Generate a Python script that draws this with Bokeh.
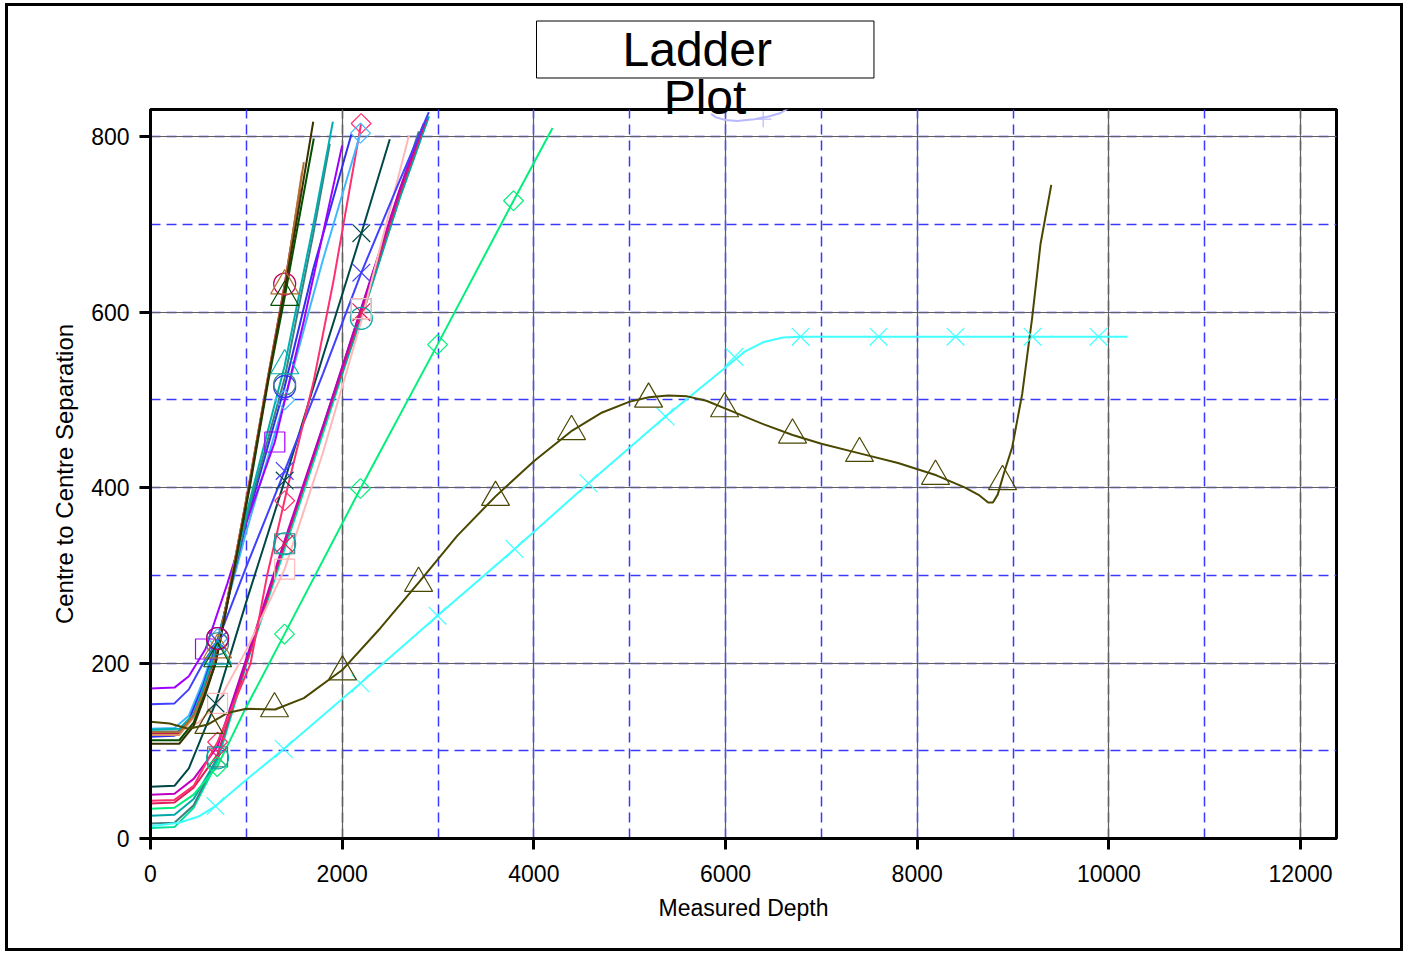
import math
from bokeh.plotting import figure
from bokeh.models import Range1d, Title, SingleIntervalTicker, LinearAxis, FixedTicker
from bokeh.embed import file_html
from bokeh.resources import INLINE

# ---------------- data ----------------
X_TICKS = [0, 2000, 4000, 6000, 8000, 10000, 12000]
Y_TICKS = [0, 200, 400, 600, 800]
TITLE_LINE1 = "Ladder"
TITLE_LINE2 = "Plot"

# left (steep) cluster
VIOLET_MD = [0, 250, 400, 574, 800, 1000, 1297, 1600, 2000]
VIOLET_SEP = [171, 172, 185, 216, 290, 360, 452, 590, 790]
VIOLET_MK_MD = [574, 1297]
VIOLET_MK_SEP = [216, 452]

BLUEX_MD = [0, 250, 400, 550, 700, 1000, 1400, 1800, 2200, 2600, 2904]
BLUEX_SEP = [153, 154, 170, 200, 225, 310, 419, 530, 645, 750, 828]
BLUEX_MK_MD = [700, 1400, 2200]
BLUEX_MK_SEP = [225, 419, 645]

BLUEC_MD = [0, 250, 400, 550, 700, 1000, 1400, 1700, 2097]
BLUEC_SEP = [116, 117, 135, 175, 225, 360, 515, 650, 803]
BLUEC_MK_MD = [700, 1400]
BLUEC_MK_SEP = [228, 515]

SKY_MD = [0, 250, 400, 550, 700, 1000, 1400, 1800, 2191]
SKY_SEP = [125, 126, 140, 180, 228, 350, 500, 660, 804]
SKY_MK_MD = [700, 1400, 2191]
SKY_MK_SEP = [228, 500, 804]

PINK1_MD = [0, 250, 450, 700, 1043, 1217, 1430, 1700, 1910, 2198]
PINK1_SEP = [43, 44, 60, 110, 199, 300, 400, 520, 636, 815]
PINK1_MK_MD = [700, 1400, 2198]
PINK1_MK_SEP = [110, 385, 815]

BROWN_MD = [0, 300, 450, 550, 670, 850, 1023, 1218, 1400, 1600]
BROWN_SEP = [121, 121, 140, 165, 200, 300, 400, 522, 630, 771]
BROWN_MK_MD = [700, 1400]
BROWN_MK_SEP = [215, 630]

TAN_MD = [0, 300, 450, 550, 670, 850, 1023, 1218, 1400, 1580]
TAN_SEP = [118, 118, 138, 163, 198, 298, 398, 518, 626, 760]

BLACK_MD = [0, 300, 450, 560, 680, 860, 1030, 1225, 1400, 1550, 1698]
BLACK_SEP = [108, 108, 128, 160, 200, 300, 400, 522, 625, 720, 817]

CRIMSON_MD = [0, 300, 450, 560, 680, 860, 1030, 1225, 1400, 1560]
CRIMSON_SEP = [120, 120, 140, 168, 205, 305, 405, 525, 632, 740]
CRIMSON_MK_MD = [700, 1400]
CRIMSON_MK_SEP = [228, 632]

DKGREEN_MD = [0, 300, 450, 560, 680, 860, 1035, 1230, 1400, 1704]
DKGREEN_SEP = [112, 112, 132, 163, 200, 300, 400, 522, 617, 798]
DKGREEN_MK_MD = [700, 1400]
DKGREEN_MK_SEP = [205, 617]

TEAL_MD = [0, 300, 450, 560, 700, 1000, 1400, 1700, 1903]
TEAL_SEP = [124, 125, 142, 175, 222, 370, 539, 700, 817]
TEAL_MK_MD = [700, 1400]
TEAL_MK_SEP = [208, 539]

GREYTEAL1_MD = [0, 300, 450, 560, 700, 1000, 1400, 1700, 1871]
GREYTEAL1_SEP = [122, 122, 140, 172, 220, 365, 525, 690, 792]
GREYTEAL1_MK_MD = [700, 1400]
GREYTEAL1_MK_SEP = [222, 518]

# right cluster
DKTEAL_MD = [0, 250, 400, 550, 678, 1000, 1400, 1800, 2200, 2497]
DKTEAL_SEP = [59, 60, 80, 120, 154, 270, 408, 550, 690, 797]
DKTEAL_MK_MD = [678, 1400, 2200]
DKTEAL_MK_SEP = [154, 408, 690]

LTPINK_MD = [0, 300, 500, 700, 1000, 1400, 1800, 2200, 2696]
LTPINK_SEP = [121, 122, 132, 154, 215, 307, 440, 590, 801]
LTPINK_MK_MD = [700, 1400, 2200]
LTPINK_MK_SEP = [154, 307, 604]

MAGENTA_MD = [0, 250, 450, 700, 1000, 1400, 1800, 2200, 2600, 2850]
MAGENTA_SEP = [50, 51, 68, 105, 205, 340, 470, 605, 740, 815]

PINK2_MD = [0, 250, 450, 700, 1000, 1400, 1800, 2200, 2600, 2880]
PINK2_SEP = [40, 41, 58, 96, 200, 336, 468, 600, 735, 820]
PINK2_MK_MD = [700, 1400, 2200]
PINK2_MK_SEP = [93, 336, 600]

TEAL2_MD = [0, 250, 450, 700, 1000, 1400, 1800, 2200, 2600, 2904]
TEAL2_SEP = [26, 27, 45, 92, 200, 336, 468, 593, 730, 823]
TEAL2_MK_MD = [700, 1400, 2200]
TEAL2_MK_SEP = [92, 336, 593]

GREYTEAL2_MD = [0, 250, 450, 700, 1000, 1400, 1800, 2200, 2800]
GREYTEAL2_SEP = [17, 18, 38, 93, 203, 336, 470, 604, 806]
GREYTEAL2_MK_MD = [700, 1400, 2200]
GREYTEAL2_MK_SEP = [93, 336, 604]

SPRING_MD = [0, 250, 450, 700, 1000, 1400, 1800, 2200, 2600, 2904]
SPRING_SEP = [12, 13, 35, 88, 198, 330, 462, 596, 730, 823]

GREEN_MD = [0, 250, 450, 696, 1000, 1398, 2191, 2995, 3788, 4195]
GREEN_SEP = [34, 35, 50, 82, 150, 233, 399, 563, 727, 810]
GREEN_MK_MD = [696, 1398, 2191, 2995, 3788]
GREEN_MK_SEP = [82, 233, 399, 563, 727]

OLIVE_MD = [0, 200, 400, 600, 800, 1000, 1300, 1600, 2000, 2400, 2800, 3200, 3600,
            4000, 4400, 4700, 5000, 5200, 5400, 5600, 5800, 6000, 6400, 6700, 7000,
            7400, 7800, 8200, 8500, 8650, 8740, 8790, 8840, 8904, 8991, 9096, 9200,
            9287, 9399]
OLIVE_SEP = [133, 131, 125, 130, 143, 148, 147, 160, 192, 240, 292, 345, 390,
             430, 465, 485, 498, 503, 505, 504, 499, 490, 472, 460, 450,
             439, 428, 414, 400, 391, 383, 383, 392, 416, 446, 507, 594,
             678, 745]
OLIVE_MK_MD = [609, 1294, 2003, 2797, 3600, 4393, 5197, 5990, 6699, 7398, 8191, 8890]
OLIVE_MK_SEP = [129, 148, 190, 291, 389, 464, 501, 490, 460, 439, 413, 407]

CYAN_MD = [0, 300, 500, 678, 1000, 1391, 2191, 2995, 3800, 4570, 5374, 6000,
           6200, 6400, 6600, 6783, 10195]
CYAN_SEP = [14, 18, 25, 37, 67, 102, 177, 254, 330, 405, 481, 537,
            555, 566, 571, 572, 572]
CYAN_MK_MD = [678, 1391, 2191, 2995, 3800, 4570, 5374, 6094, 6783, 7597, 8400, 9203, 9892]
CYAN_MK_SEP = [37, 102, 177, 254, 330, 405, 481, 549, 572, 572, 572, 572, 572]

LAV_MD = [5850, 5900, 6000, 6122, 6300, 6450, 6574, 6650]
LAV_SEP = [826, 822, 819, 818, 820, 823, 827, 832]
LAV_MK_MD = [6393]
LAV_MK_SEP = [820]

# ---------------- styles ----------------
SERIES = [
    # (md, sep, mk_md, mk_sep, color, marker)
    (SPRING_MD, SPRING_SEP, None, None, "#00e0a0", None),
    (GREYTEAL2_MD, GREYTEAL2_SEP, GREYTEAL2_MK_MD, GREYTEAL2_MK_SEP, "#408080", "square"),
    (TEAL2_MD, TEAL2_SEP, TEAL2_MK_MD, TEAL2_MK_SEP, "#00a8a8", "circle"),
    (PINK2_MD, PINK2_SEP, PINK2_MK_MD, PINK2_MK_SEP, "#e0205a", "x"),
    (MAGENTA_MD, MAGENTA_SEP, None, None, "#c000c0", None),
    (LTPINK_MD, LTPINK_SEP, LTPINK_MK_MD, LTPINK_MK_SEP, "#ffb8b8", "square"),
    (DKTEAL_MD, DKTEAL_SEP, DKTEAL_MK_MD, DKTEAL_MK_SEP, "#004848", "x"),
    (BLUEX_MD, BLUEX_SEP, BLUEX_MK_MD, BLUEX_MK_SEP, "#4040ff", "x"),
    (PINK1_MD, PINK1_SEP, PINK1_MK_MD, PINK1_MK_SEP, "#ff3070", "diamond"),
    (SKY_MD, SKY_SEP, SKY_MK_MD, SKY_MK_SEP, "#40b8ff", "diamond"),
    (BLUEC_MD, BLUEC_SEP, BLUEC_MK_MD, BLUEC_MK_SEP, "#3030f0", "circle"),
    (VIOLET_MD, VIOLET_SEP, VIOLET_MK_MD, VIOLET_MK_SEP, "#a000ff", "square"),
    (GREYTEAL1_MD, GREYTEAL1_SEP, GREYTEAL1_MK_MD, GREYTEAL1_MK_SEP, "#408080", "circle"),
    (TEAL_MD, TEAL_SEP, TEAL_MK_MD, TEAL_MK_SEP, "#00b0b0", "triangle"),
    (CRIMSON_MD, CRIMSON_SEP, CRIMSON_MK_MD, CRIMSON_MK_SEP, "#c00060", "circle"),
    (TAN_MD, TAN_SEP, None, None, "#d89060", None),
    (BROWN_MD, BROWN_SEP, BROWN_MK_MD, BROWN_MK_SEP, "#b07030", "triangle"),
    (DKGREEN_MD, DKGREEN_SEP, DKGREEN_MK_MD, DKGREEN_MK_SEP, "#005000", "triangle"),
    (BLACK_MD, BLACK_SEP, None, None, "#383000", None),
    (GREEN_MD, GREEN_SEP, GREEN_MK_MD, GREEN_MK_SEP, "#00f07a", "diamond"),
    (CYAN_MD, CYAN_SEP, CYAN_MK_MD, CYAN_MK_SEP, "#40ffff", "x"),
    (OLIVE_MD, OLIVE_SEP, OLIVE_MK_MD, OLIVE_MK_SEP, "#4a4800", "triangle"),
    (LAV_MD, LAV_SEP, LAV_MK_MD, LAV_MK_SEP, "#b8b8ff", "cross"),
]

FONT = "Liberation Sans"
TITLE_CENTER_MD = 5786   # horizontal anchor of the spilled second title line

p = figure(width=1392, height=942,
           min_border_left=142, min_border_right=64,
           min_border_top=103, min_border_bottom=110,
           x_range=Range1d(0, 12375), y_range=Range1d(0, 831),
           output_backend="svg", toolbar_location=None)
p.styles = {"margin-left": "8px", "margin-top": "6px",
            "outline": "3px solid black"}
p.background_fill_color = "white"
p.border_fill_color = "white"
p.outline_line_color = "black"
p.outline_line_width = 3

p.xaxis.ticker = SingleIntervalTicker(interval=2000, num_minor_ticks=2)
p.yaxis.ticker = SingleIntervalTicker(interval=200, num_minor_ticks=2)
p.xgrid.ticker = p.xaxis.ticker
p.ygrid.ticker = p.yaxis.ticker

for g in (p.xgrid, p.ygrid):
    g.grid_line_color = "#606060"
    g.grid_line_width = 1.2
    g.minor_grid_line_color = "#3838ff"
    g.minor_grid_line_width = 1.5
    g.minor_grid_line_dash = "10 6"

for ax in (p.xaxis, p.yaxis):
    ax.axis_line_color = "black"
    ax.axis_line_width = 3
    ax.major_tick_line_color = "black"
    ax.major_tick_line_width = 3
    ax.major_tick_out = 11
    ax.major_tick_in = 0
    ax.minor_tick_line_color = None
    ax.major_label_text_font = FONT
    ax.major_label_text_font_size = "23px"
    ax.major_label_text_color = "black"
    ax.axis_label_text_font = FONT
    ax.axis_label_text_font_style = "normal"
    ax.axis_label_text_color = "black"

p.xaxis.axis_label = "Measured Depth"
p.yaxis.axis_label = "Centre to Centre Separation"
p.xaxis.axis_label_text_font_size = "23px"
p.yaxis.axis_label_text_font_size = "24px"
p.xaxis.major_label_standoff = 15
p.yaxis.major_label_standoff = 10
p.xaxis.axis_label_standoff = 10
p.yaxis.axis_label_standoff = 10

for md, sep, mmd, msep, color, marker in SERIES:
    p.line(md, sep, line_color=color, line_width=2)
for md, sep, mmd, msep, color, marker in SERIES:
    if marker is None:
        continue
    if marker == "diamond":
        p.scatter(mmd, msep, marker="square", angle=math.pi / 4, size=14,
                  fill_color=None, line_color=color, line_width=1.2)
    else:
        sz = {"square": 20, "circle": 22, "triangle": 28, "x": 25, "cross": 16}[marker]
        p.scatter(mmd, msep, marker=marker, size=sz,
                  fill_color=None, line_color=color, line_width=1.2)

# title: "Plot" spills onto the frame top (tick label of a bare axis above),
# boxed "Ladder" above it
plot_axis = LinearAxis(ticker=FixedTicker(ticks=[TITLE_CENTER_MD]),
                       axis_line_color=None, major_tick_line_color=None,
                       minor_tick_line_color=None, major_tick_out=0, major_tick_in=0,
                       major_label_overrides={TITLE_CENTER_MD: TITLE_LINE2},
                       major_label_standoff=-14,
                       major_label_text_font=FONT, major_label_text_font_size="48px",
                       major_label_text_color="black")
p.add_layout(plot_axis, "above")
t1 = Title(text=TITLE_LINE1, align="left", offset=386, standoff=0,
           text_font=FONT, text_font_size="48px", text_font_style="normal",
           text_color="black", border_line_color="black", border_line_width=1,
           background_fill_color="white", padding=(86, 102, 2, 2))
try:
    t1.standoff = -21
except ValueError:
    pass
p.add_layout(t1, "above")

open("out.html", "w").write(file_html(p, INLINE))
